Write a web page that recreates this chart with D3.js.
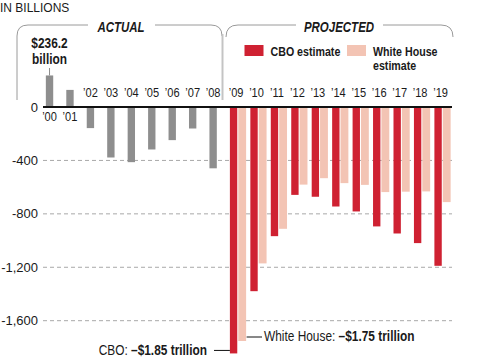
<!DOCTYPE html>
<html>
<head>
<meta charset="utf-8">
<script src="https://cdn.jsdelivr.net/npm/d3@7"></script>
<style>
	body { margin: 0; background: #fff; }
	svg { display: block; }
	text { fill: #1a1a1a; font-family: "Liberation Sans", Arial, sans-serif; }
</style>
</head>
<body>
<svg id="chart"></svg>
<script>
const actualYears = ['00', '01', '02', '03', '04', '05', '06', '07', '08'];
const actualValues = [236.2, 128, -158, -378, -413, -318, -248, -161, -459];
const projectedYears = ['09', '10', '11', '12', '13', '14', '15', '16', '17', '18', '19'];
const cboValues = [-1845, -1379, -967, -658, -672, -745, -782, -894, -947, -1019, -1189];
const whiteHouseValues = [-1752, -1171, -912, -581, -533, -570, -583, -637, -634, -632, -712];
const yTicks = [0, -400, -800, -1200, -1600];
const yTickLabels = ['0', '-400', '-800', '-1,200', '-1,600'];

const width = 490;
const height = 363;
const squeeze = 0.82; // Liberation Sans squeezed to narrow width

const colors = {
	actual: '#8e8e8e',
	cbo: '#cf2132',
	whiteHouse: '#f3c4b4',
	bracket: '#9a9a9a',
	grid: '#a8a8a8'
};

const svg = d3.select('#chart')
	.attr('width', width)
	.attr('height', height);

// condensed text: a group scaled horizontally, text drawn at its origin
const narrowText = (parent, px, py, size, anchor) => parent.append('g')
	.attr('transform', `translate(${px},${py}) scale(${squeeze},1)`)
	.append('text')
		.attr('text-anchor', anchor || 'start')
		.attr('font-size', size);

const allYears = actualYears.concat(projectedYears);

const x = d3.scaleBand()
	.domain(allYears)
	.range([39.3, 39.3 + 20.45 * allYears.length])
	.paddingInner(0.64)
	.paddingOuter(0.32);
const bw = x.bandwidth();

const y = d3.scaleLinear()
	.domain([0, -1600]).range([107, 320.7]);

const plotLeft = 43;
const plotRight = 452;

// grid
svg.append('g').selectAll('line')
	.data(yTicks.filter(d => d !== 0))
	.enter().append('line')
		.attr('x1', plotLeft).attr('x2', plotRight)
		.attr('y1', d => y(d)).attr('y2', d => y(d))
		.attr('stroke', colors.grid)
		.attr('stroke-width', 1)
		.attr('stroke-dasharray', '4,3');

svg.append('g').selectAll('text')
	.data(yTicks)
	.enter().append('text')
		.attr('x', 38)
		.attr('y', d => y(d) + 4.5)
		.attr('text-anchor', 'end')
		.attr('font-size', 13)
		.text((d, i) => yTickLabels[i]);

// bars
svg.append('g').selectAll('rect')
	.data(actualYears)
	.enter().append('rect')
		.attr('x', d => x(d))
		.attr('width', bw)
		.attr('y', (d, i) => y(Math.max(0, actualValues[i])))
		.attr('height', (d, i) => Math.abs(y(actualValues[i]) - y(0)))
		.attr('fill', colors.actual);

svg.append('g').selectAll('rect')
	.data(projectedYears)
	.enter().append('rect')
		.attr('x', d => x(d) + bw + 1)
		.attr('width', bw + 0.5)
		.attr('y', y(0))
		.attr('height', (d, i) => y(whiteHouseValues[i]) - y(0))
		.attr('fill', colors.whiteHouse);

svg.append('g').selectAll('rect')
	.data(projectedYears)
	.enter().append('rect')
		.attr('x', d => x(d))
		.attr('width', bw)
		.attr('y', y(0))
		.attr('height', (d, i) => y(cboValues[i]) - y(0))
		.attr('fill', colors.cbo);

// zero line
svg.append('line')
	.attr('x1', plotLeft).attr('x2', plotRight)
	.attr('y1', y(0)).attr('y2', y(0))
	.attr('stroke', '#111')
	.attr('stroke-width', 2);

// year labels
allYears.forEach((d, i) => {
	narrowText(svg, x(d) + bw / 2 + (i >= actualYears.length ? 2.5 : 0), i < 2 ? 120.5 : 97, 13.5, 'middle')
		.text('\u2019' + d);
});

// brackets
const brackets = svg.append('g')
	.attr('fill', 'none')
	.attr('stroke', colors.bracket)
	.attr('stroke-width', 1);
brackets.append('path').attr('d', 'M17,100 V36 Q17,25 28,25 H88');
brackets.append('path').attr('d', 'M155,25 H211 Q222,25 222,36');
brackets.append('path').attr('d', 'M226,37 Q226,25 238,25 H296');
brackets.append('path').attr('d', 'M383,25 H441 Q453,25 453,37');
svg.append('line')
	.attr('x1', 222.5).attr('x2', 222.5)
	.attr('y1', 34).attr('y2', 100)
	.attr('stroke', '#c4c4c4')
	.attr('stroke-width', 2);

const heading = (label, cx) => narrowText(svg, cx, 31.5, 14, 'middle')
	.attr('font-weight', 'bold')
	.attr('font-style', 'italic')
	.text(label);
heading('ACTUAL', 121);
heading('PROJECTED', 339);

svg.append('text')
	.attr('x', 0).attr('y', 12)
	.attr('font-size', 12)
	.text('IN BILLIONS');

// $236.2 billion callout
const peakX = x('00') + bw / 2;
narrowText(svg, peakX, 47.6, 14.5, 'middle')
	.attr('font-weight', 'bold')
	.text('$236.2');
narrowText(svg, peakX, 63.9, 14.5, 'middle')
	.attr('font-weight', 'bold')
	.text('billion');
svg.append('line')
	.attr('x1', peakX).attr('x2', peakX)
	.attr('y1', 68).attr('y2', y(actualValues[0]))
	.attr('stroke', colors.actual)
	.attr('stroke-width', 1);

// legend
const legend = [
	{ label: ['CBO estimate'], color: colors.cbo, x: 244.5 },
	{ label: ['White House', 'estimate'], color: colors.whiteHouse, x: 347 }
];
legend.forEach(item => {
	svg.append('rect')
		.attr('x', item.x).attr('y', 45)
		.attr('width', 19).attr('height', 11)
		.attr('fill', item.color);
	item.label.forEach((line, i) => {
		narrowText(svg, item.x + 26, 56 + i * 14, 13, 'start')
			.attr('font-weight', 'bold')
			.text(line);
	});
});

// low-point annotations
const cboLow = y(cboValues[0]);
const whLow = y(whiteHouseValues[0]);
svg.append('line')
	.attr('x1', 214).attr('x2', x('09'))
	.attr('y1', cboLow - 3).attr('y2', cboLow - 3)
	.attr('stroke', '#111');
const cboText = narrowText(svg, 207, cboLow + 1.5, 14.5, 'end');
cboText.append('tspan').text('CBO: ');
cboText.append('tspan').attr('font-weight', 'bold').text('\u2013$1.85 trillion');

svg.append('line')
	.attr('x1', x('09') + 2 * bw + 2).attr('x2', 262)
	.attr('y1', whLow - 4).attr('y2', whLow - 4)
	.attr('stroke', '#111');
const whText = narrowText(svg, 264, whLow, 14.5, 'start');
whText.append('tspan').text('White House: ');
whText.append('tspan').attr('font-weight', 'bold').text('\u2013$1.75 trillion');
</script>
</body>
</html>
